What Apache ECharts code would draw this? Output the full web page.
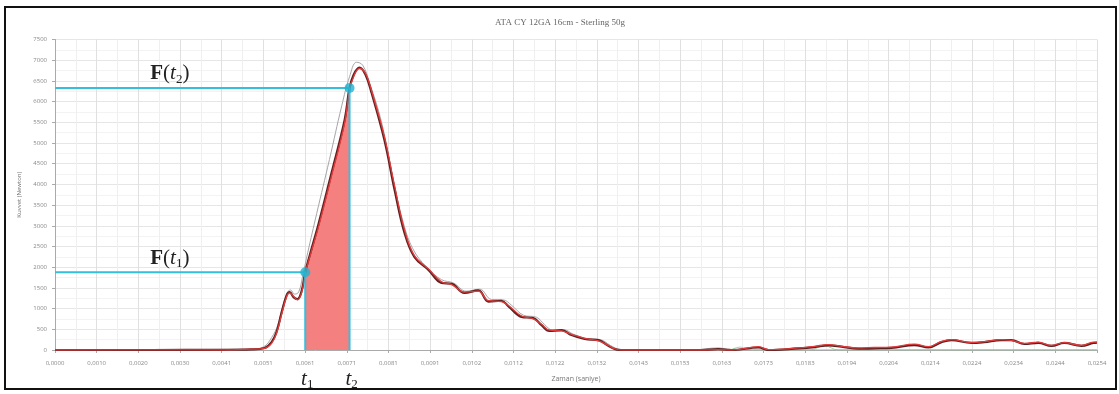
<!DOCTYPE html>
<html>
<head>
<meta charset="utf-8">
<script src="https://cdn.jsdelivr.net/npm/echarts@6/dist/echarts.min.js"></script>
<style>html,body{margin:0;padding:0;background:#fff;}#c{width:1119px;height:394px;}</style>
</head>
<body>
<div id="c"></div>
<script>
// ---- data (time in ms, force in N) ----
const chartTitle = 'ATA CY 12GA 16cm - Sterling 50g';
const xAxisName = 'Zaman (saniye)';
const yAxisName = 'Kuvvet (Newton)';
const xTickStep = 1.016;
const xTickLabels = ['0,0000','0,0010','0,0020','0,0030','0,0041','0,0051','0,0061','0,0071','0,0081','0,0091','0,0102','0,0112','0,0122','0,0132','0,0143','0,0153','0,0163','0,0173','0,0183','0,0194','0,0204','0,0214','0,0224','0,0234','0,0244','0,0254'];

const times = [0,2.36,4.06,4.79,5.11,5.28,5.40,5.52,5.65,5.72,5.82,5.91,6.01,6.10,6.21,6.43,6.74,7.06,7.18,7.28,7.42,7.57,7.72,8.03,8.28,8.52,8.76,9.11,9.42,9.67,9.98,10.32,10.57,10.88,11.06,11.37,11.66,11.86,12.05,12.35,12.59,12.91,13.25,13.49,13.64,13.81,15.76,16.17,16.50,17.15,17.39,18.12,18.51,18.85,19.17,19.58,19.97,20.39,20.95,21.29,21.61,21.85,22.34,22.65,23.07,23.31,23.63,23.97,24.29,24.60,25.02,25.31,25.40];
const darkForce = [0,0,5,15,50,190,435,890,1330,1400,1270,1230,1420,1880,2290,3068,4275,5555,6330,6650,6820,6650,6200,5070,3860,2830,2250,1930,1620,1600,1380,1440,1170,1190,1050,800,770,600,460,480,360,265,240,100,25,0,0,20,0,60,0,40,70,110,80,30,40,50,120,60,190,240,170,190,240,240,145,170,100,170,100,170,180];
const redForce = [0,5,0,20,40,160,400,850,1300,1380,1290,1210,1380,1850,2250,3000,4200,5480,6280,6600,6800,6680,6250,5150,3950,2900,2280,1950,1650,1580,1400,1420,1190,1170,1070,820,750,620,480,460,380,280,220,110,30,0,0,10,0,80,10,50,90,130,90,50,60,70,140,80,210,250,180,200,250,230,160,190,110,180,110,190,190];

const grayTimes = [0,4.79,5.09,5.28,5.43,5.55,5.67,5.74,5.84,5.94,6.04,6.16,6.38,6.69,6.99,7.18,7.35,7.50,7.67,7.96,8.23,8.47,8.72,9.06,9.42,9.71,10.03,10.35,10.64,10.93,11.13,11.42,11.74,11.93,12.13,12.40,12.64,12.96,13.30,13.54,13.71,13.90,15.50,16.17,16.50,25.40];
const grayForce = [0,20,80,300,600,1050,1400,1450,1350,1400,1800,2350,3300,4600,5900,6600,6950,6880,6450,5500,4200,3150,2450,2000,1700,1620,1420,1470,1220,1210,1080,840,790,620,480,490,380,280,250,110,30,0,0,50,0,0];

const greenTimes = [13.9,16.4,16.7,17.0,18.4,18.75,19.1,24.0,25.4];
const greenForce = [0,0,70,0,0,100,0,0,0];

// shaded region between t1 and t2
const t1 = 6.10, t2 = 7.18;
const F1 = 1880, F2 = 6330;
const fillTimes = [6.10,6.21,6.43,6.74,7.06,7.18];
const fillForce = [1880,2290,3068,4275,5555,6330];

const pairs = (xs, ys) => xs.map((x, i) => [x, ys[i]]);
const cyan = '#35bfdc';

const chart = echarts.init(document.getElementById('c'), null, {renderer: 'canvas'});
const option = {
  animation: false,
  backgroundColor: '#fff',
  grid: {left: 55, right: 22, top: 39.5, bottom: 44, containLabel: false},
  xAxis: {
    type: 'value', min: 0, max: 25.4, interval: xTickStep,
    name: xAxisName, nameLocation: 'middle', nameGap: 25,
    nameTextStyle: {fontSize: 7, color: '#777', fontFamily: 'Open Sans'},
    axisLine: {show: true, lineStyle: {color: '#aaa'}},
    axisTick: {show: true, length: 3, lineStyle: {color: '#aaa'}},
    axisLabel: {fontSize: 6, color: '#888', margin: 10, fontFamily: 'Open Sans', showMaxLabel: true,
      formatter: v => { const i = Math.round(v / xTickStep); return xTickLabels[i] || ''; }},
    splitLine: {show: true, lineStyle: {color: '#e0e0e0'}},
    minorTick: {show: false, splitNumber: 2},
    minorSplitLine: {show: true, lineStyle: {color: '#efefef'}}
  },
  yAxis: {
    type: 'value', min: 0, max: 7500, interval: 500,
    name: yAxisName, nameLocation: 'middle', nameGap: 24, nameRotate: 90,
    nameTextStyle: {fontSize: 6, color: '#777', fontFamily: 'Open Sans'},
    axisLine: {show: true, lineStyle: {color: '#aaa'}},
    axisTick: {show: true, length: 3, lineStyle: {color: '#aaa'}},
    axisLabel: {fontSize: 6, color: '#888', margin: 8, fontFamily: 'Open Sans', formatter: v => String(v)},
    splitLine: {show: true, lineStyle: {color: '#e6e6e6'}},
    minorTick: {show: false, splitNumber: 2},
    minorSplitLine: {show: true, lineStyle: {color: '#f3f3f3'}}
  },
  series: [
    {type: 'line', name: 'green', data: pairs(greenTimes, greenForce), smooth: 0.4, symbol: 'none',
      lineStyle: {color: '#9ad9a8', width: 1}, z: 2},
    {type: 'line', name: 'fill', data: pairs(fillTimes, fillForce), smooth: 0.2, symbol: 'none',
      lineStyle: {width: 0}, areaStyle: {color: '#f58080', opacity: 1}, z: 3},
    {type: 'line', name: 'gray', data: pairs(grayTimes, grayForce), smooth: 0.4, symbol: 'none',
      lineStyle: {color: '#a5a5a5', width: 1}, z: 4},
    {type: 'line', name: 'dark', data: pairs(times, darkForce), smooth: 0.4, symbol: 'none',
      lineStyle: {color: '#5e2020', width: 2.2}, z: 5},
    {type: 'line', name: 'red', data: pairs(times, redForce), smooth: 0.4, symbol: 'none',
      lineStyle: {color: '#e33b3b', width: 1.3}, z: 6},
    {type: 'line', name: 'guide1', data: [[0, F1], [t1, F1], [t1, 0]], symbol: 'none',
      lineStyle: {color: cyan, width: 2}, z: 7},
    {type: 'line', name: 'guide2', data: [[0, F2], [t2, F2], [t2, 0]], symbol: 'none',
      lineStyle: {color: cyan, width: 2}, z: 7},
    {type: 'scatter', name: 'pts', data: [[t1, F1], [t2, F2]], symbolSize: 10,
      itemStyle: {color: '#1fb3cf'}, z: 8}
  ]
};
chart.setOption(option);

const px = (x, y) => chart.convertToPixel({gridIndex: 0}, [x, y]);
const p1 = px(t1, F1), p2 = px(t2, F2), base = px(0, 0);
const labF = px(2.8, 0)[0];
const richF = {
  b: {fontFamily: 'Liberation Serif', fontWeight: 'bold', fontSize: 21, lineHeight: 24, fill: '#222'},
  n: {fontFamily: 'Liberation Serif', fontSize: 21, lineHeight: 24, fill: '#222'},
  i: {fontFamily: 'Liberation Serif', fontStyle: 'italic', fontSize: 21, lineHeight: 24, fill: '#222'},
  s: {fontFamily: 'Liberation Serif', fontSize: 13, lineHeight: 17, verticalAlign: 'bottom', fill: '#222'}
};
chart.setOption({
  graphic: [
    {type: 'rect', shape: {x: 5, y: 7, width: 1111, height: 382}, style: {fill: 'none', stroke: '#111', lineWidth: 2}, silent: true},
    {type: 'text', x: 560, y: 23, style: {text: chartTitle, fontSize: 9, fill: '#666', fontFamily: 'Liberation Serif', align: 'center', verticalAlign: 'middle'}},
    {type: 'text', x: labF, y: p2[1] - 14, style: {text: '{b|F}{n|(}{i|t}{s|2}{n|)}', rich: richF, align: 'center', verticalAlign: 'middle'}},
    {type: 'text', x: labF, y: p1[1] - 14, style: {text: '{b|F}{n|(}{i|t}{s|1}{n|)}', rich: richF, align: 'center', verticalAlign: 'middle'}},
    {type: 'text', x: p1[0] + 2, y: base[1] + 29, style: {text: '{i|t}{s|1}', rich: richF, align: 'center', verticalAlign: 'middle'}},
    {type: 'text', x: p2[0] + 2, y: base[1] + 29, style: {text: '{i|t}{s|2}', rich: richF, align: 'center', verticalAlign: 'middle'}}
  ]
});
</script>
</body>
</html>
